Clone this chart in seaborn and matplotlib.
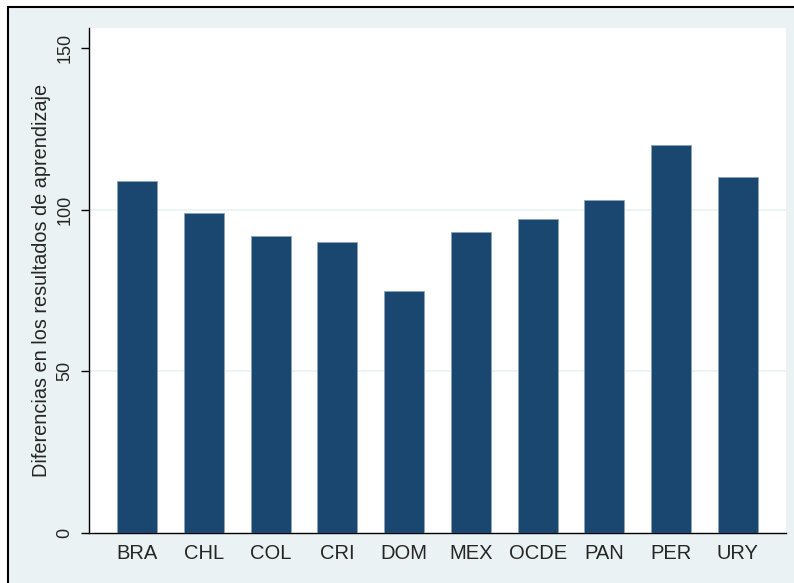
import matplotlib
matplotlib.use("Agg")
import matplotlib.pyplot as plt
import seaborn as sns
import pandas as pd
from matplotlib.patches import Rectangle

countries = ["BRA", "CHL", "COL", "CRI", "DOM", "MEX", "OCDE", "PAN", "PER", "URY"]
values = [109, 99, 92, 90, 75, 93, 97, 103, 120, 110]
yticks = [0, 50, 100, 150]
ylabel = "Diferencias en los resultados de aprendizaje"

sns.set_theme(style="white")
plt.rcParams["font.family"] = ["Liberation Sans", "DejaVu Sans"]

df = pd.DataFrame({"pais": countries, "valor": values})

fig = plt.figure(figsize=(7.94, 5.83), dpi=100)
fig.patch.set_facecolor("white")
bg = "#eaf2f3"
border = Rectangle((8 / 794, -0.1), 1.2, 1 - 7 / 583 + 0.1,
                   transform=fig.transFigure, facecolor=bg,
                   edgecolor="black", linewidth=1.5, zorder=-10)
fig.add_artist(border)

ax = fig.add_axes([89 / 794, 50 / 583, 697 / 794, 505 / 583])
ax.set_zorder(1)
ax.set_facecolor("white")
sns.barplot(data=df, x="pais", y="valor", color="#1a476f", saturation=1,
            width=0.6, ax=ax, edgecolor="#8fa3b5", linewidth=0.6, zorder=3)

ax.set_xlim(-0.72, 9.72)
ax.set_ylim(0, 156.2)
ax.set_yticks(yticks)
ax.set_yticklabels([str(t) for t in yticks], rotation=90, va="center", fontsize=13)
for t in [50, 100]:
    ax.axhline(t, color="#eaf2f3", linewidth=1.2, zorder=1)
ax.tick_params(axis="y", which="both", left=True, length=6, width=1, color="black", pad=5)
ax.tick_params(axis="x", length=0, labelsize=14.5, pad=8)
ax.set_xlabel("")
ax.set_ylabel(ylabel, fontsize=14.3, labelpad=4)
for s in ["top", "right"]:
    ax.spines[s].set_visible(False)
for s in ["left", "bottom"]:
    ax.spines[s].set_visible(True)
    ax.spines[s].set_color("black")
    ax.spines[s].set_linewidth(1)

fig.savefig("out.png", dpi=100)
